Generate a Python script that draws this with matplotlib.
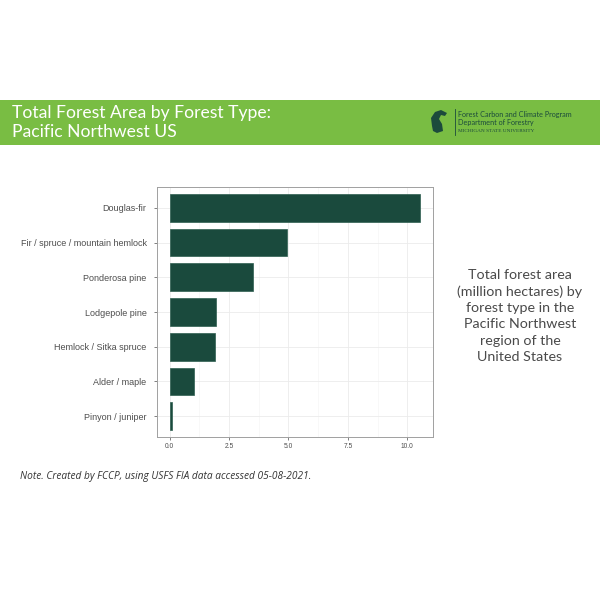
import numpy as np
import matplotlib
matplotlib.use("Agg")
import matplotlib.pyplot as plt
from matplotlib.patches import Rectangle, Polygon

forest_types = ["Douglas-fir", "Fir / spruce / mountain hemlock", "Ponderosa pine",
                "Lodgepole pine", "Hemlock / Sitka spruce", "Alder / maple", "Pinyon / juniper"]
area_mha = [10.55, 4.95, 3.52, 1.97, 1.92, 1.03, 0.12]
x_ticks = [0, 2.5, 5, 7.5, 10]
x_labels = ["0.0", "2.5", "5.0", "7.5", "10.0"]

plt.rcParams["font.family"] = ["Lato", "DejaVu Sans"]

fig = plt.figure(figsize=(6, 6), dpi=100)
fig.patch.set_facecolor("white")

# green banner
fig.patches.append(Rectangle((0, 1 - 145 / 600), 1, 45 / 600, transform=fig.transFigure,
                             facecolor="#79bd43", edgecolor="none", zorder=0))
fig.text(12 / 600, 1 - 113 / 600, "Total Forest Area by Forest Type:", color="white",
         fontsize=12.6, va="center", ha="left")
fig.text(12 / 600, 1 - 132 / 600, "Pacific Northwest US", color="white",
         fontsize=12.6, va="center", ha="left")

# logo block
helmet = [(432, 126), (431, 118), (435, 112), (441, 110), (447, 113), (445, 116), (441, 115),
          (439, 119), (442, 124), (443, 131), (437, 133), (433, 131)]
fig.patches.append(Polygon([(x / 600, 1 - y / 600) for x, y in helmet], closed=True,
                           transform=fig.transFigure, facecolor="#1c4b3c", edgecolor="none"))
fig.lines.append(plt.Line2D([455 / 600, 455 / 600], [1 - 109 / 600, 1 - 135 / 600],
                            transform=fig.transFigure, color="#1c4b3c", lw=0.6))
fig.text(458 / 600, 1 - 115 / 600, "Forest Carbon and Climate Program", color="#1c4b3c",
         fontsize=5.2, va="center", ha="left")
fig.text(458 / 600, 1 - 123 / 600, "Department of Forestry", color="#1c4b3c",
         fontsize=5.2, va="center", ha="left")
fig.text(458 / 600, 1 - 130.5 / 600, "MICHIGAN STATE UNIVERSITY", color="#1c4b3c",
         fontsize=3.8, va="center", ha="left", family="Liberation Serif")

# chart
ax = fig.add_axes([157 / 600, 1 - 437 / 600, 276 / 600, 250 / 600])
y = np.arange(len(forest_types))[::-1] + 1
ax.barh(y, area_mha, height=0.8, color="#1a4a3d", edgecolor="#2e5e50", linewidth=0.5, zorder=3)
ax.set_xlim(-0.53, 11.08)
ax.set_ylim(0.4, 7.6)
ax.set_yticks(y)
ax.set_yticklabels(forest_types, family="Liberation Sans")
ax.set_xticks(x_ticks)
ax.set_xticklabels(x_labels, family="Liberation Sans")
ax.set_xticks([1.25, 3.75, 6.25, 8.75], minor=True)
ax.grid(True, which="major", color="#ebebeb", lw=0.6, zorder=0)
ax.grid(True, which="minor", axis="x", color="#f3f3f3", lw=0.4, zorder=0)
ax.tick_params(axis="y", labelsize=6.5, labelcolor="#4d4d4d", color="#4d4d4d",
               length=2.5, width=0.5, pad=5)
ax.tick_params(axis="x", labelsize=4.8, labelcolor="#4d4d4d", color="#4d4d4d",
               length=2.5, width=0.5, pad=2)
ax.tick_params(axis="x", which="minor", length=0)
for s in ax.spines.values():
    s.set_color("#a0a0a0")
    s.set_linewidth(0.7)

# side description
desc = ["Total forest area", "(million hectares) by", "forest type in the",
        "Pacific Northwest", "region of the", "United States"]
for i, line in enumerate(desc):
    fig.text(520 / 600, 1 - (275 + i * 16.4) / 600, line, color="#4a4a4a", fontsize=10.3,
             ha="center", va="center")

fig.text(20 / 600, 1 - 477 / 600,
         "Note. Created by FCCP, using USFS FIA data accessed 05-08-2021.",
         color="#333333", fontsize=7.3, style="italic", ha="left", va="center",
         family="Open Sans")

fig.savefig("out.png", dpi=100)
